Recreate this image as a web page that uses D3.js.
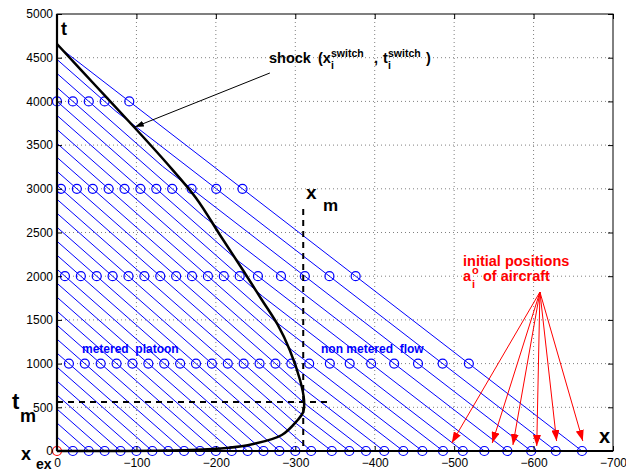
<!DOCTYPE html>
<html>
<head>
<meta charset="utf-8">
<script src="https://cdn.jsdelivr.net/npm/d3@7"></script>
<style>
  body { margin: 0; background: #fff; }
  text { font-family: "Liberation Sans", Arial, Helvetica, sans-serif; white-space: pre; }
</style>
</head>
<body>
<div id="chart"></div>
<script>
var w = 626;
var h = 471;

var margin = { top: 14, left: 57, right: 13, bottom: 20 };
var width = w - margin.left - margin.right;
var height = h - margin.top - margin.bottom;

// tick labels
var xTicks = [0, -100, -200, -300, -400, -500, -600, -700];
var tTicks = [0, 500, 1000, 1500, 2000, 2500, 3000, 3500, 4000, 4500, 5000];

// aircraft: initial position at t=0 and exit time at x=0
var initialPos = [0, -20, -40, -60, -80, -100, -120, -140, -160, -180, -200, -220, -240, -260, -280, -300, -320,
  -346, -368, -389, -412, -436, -460, -486, -511, -538, -567, -597, -628, -661];
var exitTime = [0, 160, 320, 480, 640, 800, 960, 1120, 1280, 1440, 1600, 1760, 1920, 2080, 2240, 2400, 2560,
  2720, 2880, 3040, 3200, 3360, 3520, 3680, 3840, 4000, 4160, 4320, 4480, 4640];
var markTimes = [0, 1000, 2000, 3000, 4000];
var freeSpeed = 0.1425;
var meteredSpeed = 0.125;

// shock curve
var shockX = [0, -79, -167, -214, -247, -283, -303, -310, -311, -306, -293, -278, -258, -234, -206, -175, -138, -97, -49, 0];
var shockT = [0, 0, 11, 34, 80, 183, 355, 446, 584, 812, 1156, 1442, 1728, 2071, 2460, 2895, 3295, 3707, 4176, 4657];

var xm = -310, xmTop = 2769;
var tm = 560, tmRight = -344;

var arrowFromX = -608, arrowFromT = 1819;
var arrowToX = [-497, -548, -574, -604, -629, -662];
var arrowToT = [92, 92, 69, 57, 114, 114];

var x = d3.scaleLinear().domain([0, -700]).range([0, width]);
var y = d3.scaleLinear().domain([0, 5000]).range([height, 0]);

var svg = d3.select("#chart").append("svg")
  .attr("width", w)
  .attr("height", h);

var defs = svg.append("defs");
function marker(id, color, len, wid) {
  defs.append("marker")
    .attr("id", id)
    .attr("markerUnits", "userSpaceOnUse")
    .attr("viewBox", "0 0 " + len + " " + wid)
    .attr("refX", len).attr("refY", wid / 2)
    .attr("markerWidth", len).attr("markerHeight", wid)
    .attr("orient", "auto")
    .append("path")
    .attr("d", "M0,0L" + len + "," + (wid / 2) + "L0," + wid + "Z")
    .attr("fill", color);
}
marker("redHead", "#ff0000", 11, 8);
marker("blackHead", "#000", 9, 6);

var chart = svg.append('g').attr("transform", "translate(" + margin.left + "," + margin.top + ")");

// grid
var grid = chart.append("g").attr("stroke", "#808080").attr("stroke-dasharray", "1,3");
grid.selectAll(".gx").data(xTicks.slice(1, -1)).join("line")
  .attr("x1", function (d) { return x(d); }).attr("x2", function (d) { return x(d); })
  .attr("y1", 0).attr("y2", height);
grid.selectAll(".gy").data(tTicks.slice(1, -1)).join("line")
  .attr("y1", function (d) { return y(d); }).attr("y2", function (d) { return y(d); })
  .attr("x1", 0).attr("x2", width);

// trajectories: free flight until meeting the metered line, then metered to the exit
function trajectory(i) {
  var a = initialPos[i], te = exitTime[i];
  var ts = (-a - meteredSpeed * te) / (freeSpeed - meteredSpeed);
  if (ts <= 1) return [[a, 0], [0, te]];
  return [[a, 0], [a + freeSpeed * ts, ts], [0, te]];
}
function posAt(p, t) {
  for (var k = 0; k < p.length - 1; k++) {
    if (t >= p[k][1] && t <= p[k + 1][1]) {
      var f = (t - p[k][1]) / (p[k + 1][1] - p[k][1]);
      return [p[k][0] + f * (p[k + 1][0] - p[k][0]), t];
    }
  }
  return null;
}

var paths = d3.range(1, initialPos.length).map(trajectory);
var line = d3.line().x(function (d) { return x(d[0]); }).y(function (d) { return y(d[1]); });

chart.append("g").selectAll("path")
  .data(paths)
  .join("path")
  .attr("d", line)
  .attr("fill", "none")
  .attr("stroke", "#0000ff")
  .attr("stroke-width", 1);

var marks = [];
paths.forEach(function (p) {
  markTimes.forEach(function (t) {
    var q = posAt(p, t);
    if (q) marks.push(q);
  });
});

chart.append("g").selectAll("circle")
  .data(marks)
  .join("circle")
  .attr("cx", function (d) { return x(d[0]); })
  .attr("cy", function (d) { return y(d[1]); })
  .attr("r", 4.5)
  .attr("fill", "none")
  .attr("stroke", "#0000ff")
  .attr("stroke-width", 1.2);

// shock
var shock = d3.range(shockX.length).map(function (i) { return [shockX[i], shockT[i]]; });
chart.append("path")
  .attr("d", d3.line().curve(d3.curveCatmullRom.alpha(0.5)).x(function (d) { return x(d[0]); }).y(function (d) { return y(d[1]); })(shock))
  .attr("fill", "none")
  .attr("stroke", "#000")
  .attr("stroke-width", 2.5);

// x_m and t_m
chart.append("line")
  .attr("x1", x(xm)).attr("x2", x(xm)).attr("y1", y(xmTop)).attr("y2", y(0))
  .attr("stroke", "#000").attr("stroke-width", 2).attr("stroke-dasharray", "6,5");
chart.append("line")
  .attr("x1", x(0)).attr("x2", x(tmRight)).attr("y1", y(tm)).attr("y2", y(tm))
  .attr("stroke", "#000").attr("stroke-width", 2).attr("stroke-dasharray", "6,5");

// red origin
chart.append("circle")
  .attr("cx", x(initialPos[0])).attr("cy", y(exitTime[0])).attr("r", 4.5)
  .attr("fill", "none").attr("stroke", "#ff0000").attr("stroke-width", 1.2);

// frame
chart.append("rect").attr("width", width).attr("height", height)
  .attr("fill", "none").attr("stroke", "#000").attr("stroke-width", 1);
chart.append("line").attr("x1", 0).attr("x2", 0).attr("y1", 0).attr("y2", height)
  .attr("stroke", "#000").attr("stroke-width", 2.2);
chart.append("line").attr("x1", 0).attr("x2", width).attr("y1", height).attr("y2", height)
  .attr("stroke", "#000").attr("stroke-width", 2.2);

// axes
var fmt = function (d) { return d3.format("d")(d).replace("-", "\u2212"); };
chart.append('g').attr("transform", "translate(0," + height + ")")
  .call(d3.axisBottom(x).tickValues(xTicks).tickFormat(fmt).tickSizeInner(-5).tickSizeOuter(0).tickPadding(7));
chart.append('g')
  .call(d3.axisLeft(y).tickValues(tTicks).tickFormat(d3.format("d")).tickSizeInner(-5).tickSizeOuter(0).tickPadding(4));
chart.append('g').call(d3.axisTop(x).tickValues(xTicks).tickFormat("").tickSizeInner(-5).tickSizeOuter(0));
chart.append('g').attr("transform", "translate(" + width + ",0)")
  .call(d3.axisRight(y).tickValues(tTicks).tickFormat("").tickSizeInner(-5).tickSizeOuter(0));
chart.selectAll(".domain").remove();
chart.selectAll(".tick text").style("font-size", "12px").attr("fill", "#000")
  .style("font-family", '"Liberation Sans", Arial, sans-serif');
chart.selectAll(".tick line").attr("stroke", "#000");

// annotation arrows
chart.append("line")
  .attr("x1", x(-268)).attr("y1", y(4325)).attr("x2", x(-98)).attr("y2", y(3707))
  .attr("stroke", "#000").attr("stroke-width", 1).attr("marker-end", "url(#blackHead)");

chart.append("g").selectAll("line")
  .data(arrowToX)
  .join("line")
  .attr("x1", x(arrowFromX)).attr("y1", y(arrowFromT))
  .attr("x2", function (d) { return x(d); })
  .attr("y2", function (d, i) { return y(arrowToT[i]); })
  .attr("stroke", "#ff0000").attr("stroke-width", 1)
  .attr("marker-end", "url(#redHead)");

// texts (page coordinates)
function txt(s, px, py, size, color) {
  return svg.append("text").attr("x", px).attr("y", py)
    .style("font-size", size + "px")
    .style("font-weight", "bold")
    .attr("fill", color || "#000")
    .text(s);
}

txt("t", 61, 35, 18);
txt("x", 599, 443, 20);
txt("x", 306, 199, 19);
txt("m", 323, 211, 17);
txt("t", 12, 409, 22);
txt("m", 20, 422, 18);
txt("x", 21, 460, 18);
txt("ex", 36, 469, 14);

txt("shock", 269, 63, 14.5);
txt("(x", 318, 63, 14.5);
txt("switch", 331, 57, 10.5);
txt("i", 331, 69, 10.5);
txt(",", 374, 63, 14.5);
txt("t", 383, 63, 14.5);
txt("switch", 388, 57, 10.5);
txt("i", 388, 69, 10.5);
txt(")", 426, 63, 14.5);

txt("metered  platoon", 82, 353, 12, "#0000ff");
txt("non metered  flow", 321, 353, 12, "#0000ff");

txt("initial positions", 463, 266, 14.5, "#ff0000");
txt("a", 463, 281, 14.5, "#ff0000");
txt("o", 472, 274, 11, "#ff0000");
txt("i", 472, 288, 11, "#ff0000");
txt("of aircraft", 483, 281, 14.5, "#ff0000");
</script>
</body>
</html>
